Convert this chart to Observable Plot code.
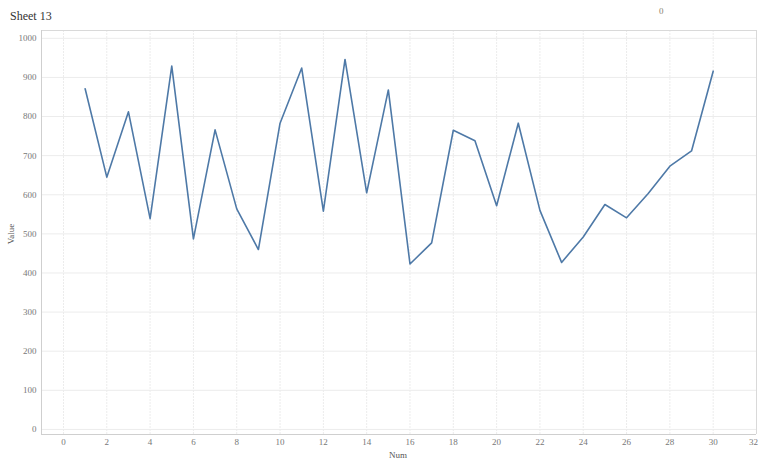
<!DOCTYPE html>
<html><head><meta charset="utf-8">
<script src="https://cdn.jsdelivr.net/npm/d3@7"></script>
<script src="https://cdn.jsdelivr.net/npm/@observablehq/plot@0.6"></script>
<style>
body{margin:0;background:#fff;font-family:"Liberation Serif",serif;}
#wrap{position:relative;width:764px;height:470px;}
#title{position:absolute;left:10px;top:9px;font-size:12px;color:#333;}
#legend0{position:absolute;left:659px;top:6px;font-size:9px;color:#8a7f6e;}
#chart{position:absolute;left:0;top:0;}
</style></head>
<body>
<div id="wrap"><div id="chart"></div><div id="title">Sheet 13</div><div id="legend0">0</div></div>
<script>
const nums = [1,2,3,4,5,6,7,8,9,10,11,12,13,14,15,16,17,18,19,20,21,22,23,24,25,26,27,28,29,30];
const values = [871,645,812,539,929,487,766,564,460,783,924,558,946,605,868,423,477,765,738,572,783,560,427,492,575,541,603,673,712,916];
const xTicks = d3.range(0, 33, 2);
const yTicks = d3.range(0, 1001, 100);
const data = nums.map((n, i) => ({Num: n, Value: values[i]}));
const xDom = [-1.015, 32], yDom = [-13, 1020];
const chart = Plot.plot({
  width: 764, height: 470,
  marginLeft: 41, marginRight: 8, marginTop: 30, marginBottom: 36,
  style: {fontFamily: "Liberation Serif, serif", fontSize: "9px", color: "#777", background: "#fff"},
  x: {domain: xDom, ticks: xTicks, tickSize: 0, tickPadding: 4, label: null},
  y: {domain: yDom, ticks: yTicks, tickSize: 0, tickPadding: 5, label: null, tickFormat: d => String(d)},
  marks: [
    Plot.gridY(yTicks, {stroke: "#ececec", strokeOpacity: 1}),
    Plot.gridX(xTicks, {stroke: "#ececec", strokeOpacity: 1, strokeDasharray: "2,1"}),
    Plot.ruleY([yDom[1]], {stroke: "#d9d9d9"}),
    Plot.ruleX([xDom[1]], {stroke: "#d9d9d9", dx: 0}),
    Plot.ruleX([xDom[0]], {stroke: "#cfcfcf"}),
    Plot.ruleY([yDom[0]], {stroke: "#cfcfcf"}),
    Plot.lineY(data, {x: "Num", y: "Value", stroke: "#4e79a7", strokeWidth: 1.6}),
    Plot.axisX({ticks: xTicks.slice(0, -1), tickSize: 0, tickPadding: 4, label: null}),
    Plot.axisX({ticks: xTicks.slice(-1), tickSize: 0, tickPadding: 4, label: null, dx: -3}),
    Plot.axisY({ticks: yTicks, tickSize: 0, tickPadding: 5, label: null, tickFormat: d => String(d)})
  ]
});
document.getElementById("chart").appendChild(chart);
const svg = d3.select(chart);
svg.append("text").attr("x", 398).attr("y", 458).attr("text-anchor", "middle")
  .attr("font-size", 9).attr("fill", "#555").text("Num");
svg.append("text").attr("transform", "translate(14,234) rotate(-90)").attr("text-anchor", "middle")
  .attr("font-size", 9).attr("fill", "#555").text("Value");
</script>
</body></html>
